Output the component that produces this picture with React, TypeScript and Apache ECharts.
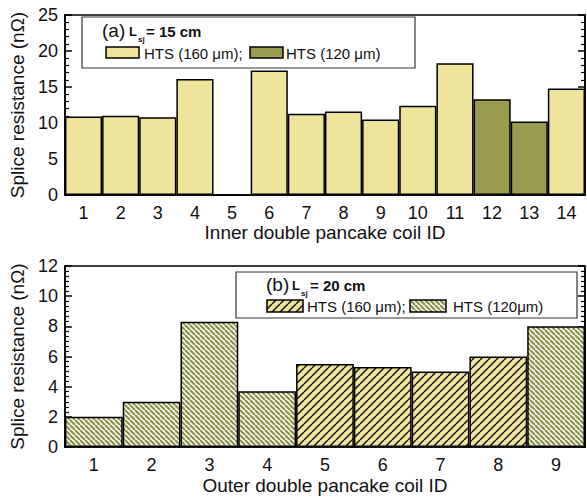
import React, { useEffect, useRef } from "react";
import * as echarts from "echarts";

const innerIds = ["1", "2", "3", "4", "5", "6", "7", "8", "9", "10", "11", "12", "13", "14"];
const innerValues = [10.9, 11.0, 10.8, 16.1, 0, 17.3, 11.3, 11.6, 10.5, 12.4, 18.3, 13.3, 10.2, 14.8];
const innerTapes = ["160", "160", "160", "160", "160", "160", "160", "160", "160", "160", "160", "120", "120", "160"];

const outerIds = ["1", "2", "3", "4", "5", "6", "7", "8", "9"];
const outerValues = [2.0, 3.0, 8.3, 3.7, 5.5, 5.3, 5.0, 6.0, 8.0];
const outerTapes = ["120", "120", "120", "120", "160", "160", "160", "160", "120"];

const innerTicks = { min: 0, max: 25, interval: 5, minor: 5 };
const outerTicks = { min: 0, max: 12, interval: 2, minor: 6 };

const FONT = "Liberation Sans";
const YELLOW = "#EEE49B";
const OLIVE = "#9A9A50";
const STRIPE_OLIVE = "#8E9248";

function makeStripes(bg: string, fg: string, size: number, lw: number, dir: "/" | "\\") {
  const k = 4;
  const c = document.createElement("canvas");
  c.width = size * k;
  c.height = size * k;
  const ctx = c.getContext("2d")!;
  ctx.fillStyle = bg;
  ctx.fillRect(0, 0, c.width, c.height);
  ctx.strokeStyle = fg;
  ctx.lineWidth = lw * k;
  const s = size * k;
  for (const x0 of [-s, 0, s]) {
    ctx.beginPath();
    if (dir === "/") {
      ctx.moveTo(x0, s);
      ctx.lineTo(x0 + s, 0);
    } else {
      ctx.moveTo(x0, 0);
      ctx.lineTo(x0 + s, s);
    }
    ctx.stroke();
  }
  return { image: c, repeat: "repeat", imageWidth: size, imageHeight: size } as any;
}

export default function App() {
  const ref = useRef<HTMLDivElement>(null);
  useEffect(() => {
    if (!ref.current) return;
    const chart = echarts.init(ref.current, null, { renderer: "svg" });

    const hatch160 = makeStripes(YELLOW, "#1a1a1a", 8, 1.5, "/");
    const hatch120 = makeStripes("#ffffff", STRIPE_OLIVE, 5, 2.2, "\\");

    const innerData = innerValues.map((v, i) => ({
      value: v,
      itemStyle: { color: innerTapes[i] === "120" ? OLIVE : YELLOW },
    }));
    const outerData = outerValues.map((v, i) => ({
      value: v,
      itemStyle: { color: outerTapes[i] === "120" ? hatch120 : hatch160 },
    }));

    const xAx = (gi: number, data: string[], name: string, gap: number) => ({
      type: "category",
      gridIndex: gi,
      data,
      boundaryGap: true,
      axisLine: { lineStyle: { color: "#000", width: 1.5 } },
      axisTick: { show: false },
      axisLabel: { fontSize: 18, color: "#111", margin: 9, fontFamily: FONT },
      name,
      nameLocation: "middle",
      nameGap: gap,
      nameTextStyle: { fontSize: 19, color: "#111", fontFamily: FONT },
    });
    const yAx = (gi: number, t: any, right: boolean) => ({
      type: "value",
      gridIndex: gi,
      position: right ? "right" : "left",
      min: t.min,
      max: t.max,
      interval: t.interval,
      axisLine: { show: true, lineStyle: { color: "#000", width: 1.5 } },
      axisTick: { show: true, inside: true, length: 7, lineStyle: { color: "#000", width: 1.5 } },
      minorTick: { show: true, splitNumber: t.minor, length: 4, lineStyle: { color: "#000", width: 1.2 } },
      splitLine: { show: false },
      axisLabel: right
        ? { show: false }
        : { fontSize: 18, color: "#111", margin: 7, fontFamily: FONT },
      name: right ? "" : "Splice resistance (nΩ)",
      nameLocation: "middle",
      nameGap: 32,
      nameTextStyle: { fontSize: 19, color: "#111", fontFamily: FONT },
    });

    const txt = (x: number, y: number, text: string, size: number, bold = false) => ({
      type: "text",
      x,
      y,
      z: 100,
      style: {
        text,
        fill: "#111",
        font: `${bold ? "bold " : ""}${size}px "${FONT}"`,
        textVerticalAlign: "middle",
        textAlign: "left",
      },
    });
    const rect = (x: number, y: number, w: number, h: number, fill: any, stroke: string, lw: number) => ({
      type: "rect",
      z: 100,
      shape: { x, y, width: w, height: h },
      style: { fill, stroke, lineWidth: lw },
    });

    chart.setOption({
      animation: false,
      textStyle: { fontFamily: FONT },
      grid: [
        { left: 64, top: 15, width: 521, height: 180, show: true, borderColor: "#000", borderWidth: 1.5, backgroundColor: "transparent" },
        { left: 64, top: 266, width: 521, height: 181, show: true, borderColor: "#000", borderWidth: 1.5, backgroundColor: "transparent" },
      ],
      xAxis: [
        xAx(0, innerIds, "Inner double pancake coil ID", 25),
        xAx(1, outerIds, "Outer double pancake coil ID", 29),
      ],
      yAxis: [
        yAx(0, innerTicks, false),
        yAx(0, innerTicks, true),
        yAx(1, outerTicks, false),
        yAx(1, outerTicks, true),
      ],
      series: [
        {
          type: "bar",
          xAxisIndex: 0,
          yAxisIndex: 0,
          data: innerData,
          barCategoryGap: "0%",
          itemStyle: { borderColor: "#000", borderWidth: 1.5 },
        },
        {
          type: "bar",
          xAxisIndex: 1,
          yAxisIndex: 2,
          data: outerData,
          barCategoryGap: "0%",
          itemStyle: { borderColor: "#000", borderWidth: 1.5 },
        },
      ],
      graphic: [
        rect(82, 17, 333, 51, "#fff", "#333", 1.2),
        txt(102, 30, "(a)", 19),
        txt(129, 31, "L", 13, true),
        txt(138, 39, "sj", 8, true),
        txt(146, 31, "= 15 cm", 15, true),
        rect(106, 47, 33, 11, YELLOW, "#000", 1.5),
        txt(144, 53, "HTS (160 μm);", 15),
        rect(250, 47, 33, 11, OLIVE, "#000", 1.5),
        txt(286, 53, "HTS (120 μm)", 15),

        rect(236, 272, 341, 46, "#fff", "#333", 1.2),
        txt(266, 284, "(b)", 19),
        txt(292, 285, "L", 13, true),
        txt(301, 293, "sj", 8, true),
        txt(310, 285, "= 20 cm", 15, true),
        rect(267, 300, 36, 12, hatch160, "#000", 1.5),
        txt(307, 306, "HTS (160 μm);", 15),
        rect(410, 300, 36, 12, hatch120, "#000", 1.5),
        txt(453, 306, "HTS (120μm)", 15),
      ],
    });
    return () => chart.dispose();
  }, []);
  return <div ref={ref} style={{ position: "absolute", left: 0, top: 0, width: 587, height: 497 }} />;
}
